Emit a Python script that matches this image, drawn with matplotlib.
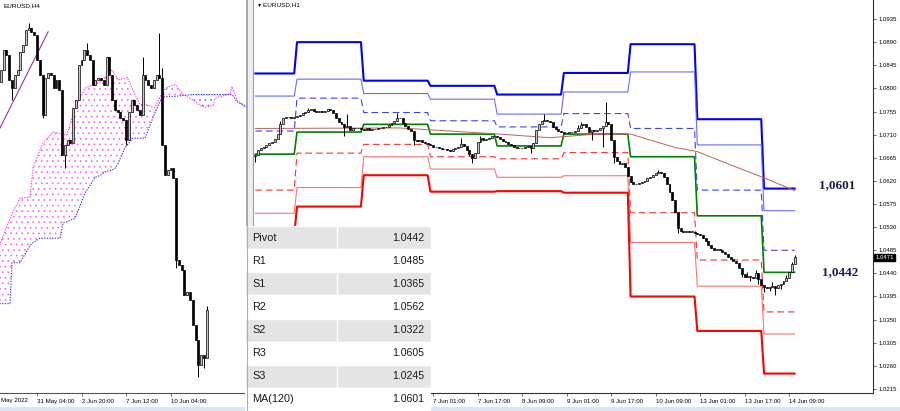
import matplotlib
matplotlib.use("Agg")
import matplotlib.pyplot as plt
from matplotlib.patches import Rectangle
import numpy as np

W, H = 900, 411

# ---------------- H1 panel (bar 0 = 3 Jun 00:00) ----------------
h1_first_bar = -15
h1_first_open = 1.0668
h1_close = [
    1.0670, 1.0680, 1.0684, 1.0686, 1.0690, 1.0694, 1.0696, 1.0702, 1.0711, 1.0731, 1.0742, 1.0744,
    1.0744, 1.0742, 1.0744, 1.0746, 1.0748, 1.0752, 1.0754, 1.0758, 1.0760, 1.0756, 1.0754, 1.0756,
    1.0754, 1.0756, 1.0760, 1.0758, 1.0752, 1.0742, 1.0735, 1.0731, 1.0725, 1.0727, 1.0719, 1.0723,
    1.0723, 1.0723, 1.0721, 1.0719, 1.0723, 1.0719, 1.0721, 1.0721, 1.0723, 1.0723, 1.0725, 1.0725,
    1.0729, 1.0733, 1.0737, 1.0742, 1.0742, 1.0733, 1.0727, 1.0721, 1.0717, 1.0700, 1.0698, 1.0700,
    1.0696, 1.0694, 1.0692, 1.0690, 1.0686, 1.0686, 1.0684, 1.0682, 1.0682, 1.0680, 1.0678, 1.0682,
    1.0684, 1.0686, 1.0692, 1.0688, 1.0680, 1.0672, 1.0665, 1.0674, 1.0696, 1.0703, 1.0700, 1.0702,
    1.0703, 1.0707, 1.0707, 1.0705, 1.0702, 1.0698, 1.0696, 1.0692, 1.0690, 1.0686, 1.0684, 1.0684,
    1.0684, 1.0686, 1.0688, 1.0684, 1.0694, 1.0719, 1.0731, 1.0737, 1.0738, 1.0737, 1.0735, 1.0725,
    1.0721, 1.0717, 1.0715, 1.0713, 1.0713, 1.0715, 1.0715, 1.0717, 1.0723, 1.0729, 1.0731, 1.0725,
    1.0715, 1.0719, 1.0717, 1.0719, 1.0723, 1.0727, 1.0735, 1.0731, 1.0700, 1.0666, 1.0659, 1.0653,
    1.0655, 1.0647, 1.0630, 1.0618, 1.0614, 1.0614, 1.0616, 1.0618, 1.0620, 1.0626, 1.0628, 1.0631,
    1.0635, 1.0637, 1.0635, 1.0628, 1.0614, 1.0598, 1.0583, 1.0559, 1.0528, 1.0522, 1.0521, 1.0522,
    1.0521, 1.0521, 1.0519, 1.0517, 1.0515, 1.0509, 1.0503, 1.0495, 1.0489, 1.0486, 1.0487, 1.0486,
    1.0482, 1.0478, 1.0472, 1.0468, 1.0464, 1.0460, 1.0450, 1.0439, 1.0433, 1.0435, 1.0433, 1.0431,
    1.0441, 1.0429, 1.0417, 1.0413, 1.0412, 1.0413, 1.0415, 1.0412, 1.0417, 1.0419, 1.0425, 1.0431,
    1.0443, 1.0458, 1.0471,
]
h1_highs = {-6: 1.0736, 4: 1.0762, 18: 1.0750, 36: 1.0752, 59: 1.0703, 66: 1.0708, 89: 1.0750,
            101: 1.0729, 102: 1.0735, 111: 1.0774, 130: 1.0641, 162: 1.0443, 165: 1.0447,
            167: 1.0427, 171: 1.0423, 176: 1.0437, 178: 1.0463, 179: 1.0476}
h1_lows = {-15: 1.0657, 17: 1.0707, 42: 1.0690, 62: 1.0668, 63: 1.0655, 84: 1.0674,
           106: 1.0700, 110: 1.0686, 114: 1.0655, 137: 1.0519, 160: 1.0433, 163: 1.0425,
           166: 1.0419, 168: 1.0404, 170: 1.0405, 172: 1.0398, 174: 1.0410}

# daily pivot levels: 2, 3, 6, 7, 8, 9, 10, 13, 14 Jun
day_start_bar = [-15, 0, 24, 48, 72, 96, 120, 144, 168]
last_bar = 179
r3 = [1.0829, 1.0890, 1.0815, 1.0805, 1.0788, 1.0830, 1.0886, 1.0740, 1.0605]
r2 = [1.0785, 1.0818, 1.0790, 1.0779, 1.0750, 1.0793, 1.0832, 1.0690, 1.0562]
r1 = [1.0717, 1.0781, 1.0753, 1.0737, 1.0725, 1.0751, 1.0722, 1.0602, 1.0485]
pivot = [1.0672, 1.0715, 1.0730, 1.0711, 1.0688, 1.0711, 1.0667, 1.0552, 1.0442]
s1 = [1.0602, 1.0674, 1.0691, 1.0667, 1.0663, 1.0675, 1.0558, 1.0466, 1.0365]
s2 = [1.0557, 1.0607, 1.0667, 1.0643, 1.0627, 1.0630, 1.0500, 1.0415, 1.0322]
s3 = [1.0515, 1.0570, 1.0631, 1.0599, 1.0600, 1.0597, 1.0395, 1.0328, 1.0245]

ma_bars = [-15, 37, 55, 73, 91, 105, 120, 136, 144, 156, 168, 179]
ma_vals = [1.0722, 1.0723, 1.0717, 1.0711, 1.0704, 1.0710, 1.0711, 1.0685, 1.0677, 1.0651, 1.0626, 1.0601]

h1_tick_bars = [49, 65, 81, 97, 113, 129, 145, 161, 177]
h1_tick_labels = ["7 Jun 01:00", "7 Jun 17:00", "8 Jun 09:00", "9 Jun 01:00", "9 Jun 17:00",
                  "10 Jun 09:00", "13 Jun 01:00", "13 Jun 17:00", "14 Jun 09:00"]
price_ticks = [1.0215, 1.0260, 1.0305, 1.0350, 1.0395, 1.0440, 1.0485, 1.0530, 1.0575,
               1.0620, 1.0665, 1.0710, 1.0755, 1.0800, 1.0845, 1.0890, 1.0935]
last_price = 1.0471

table_labels = ["Pivot", "R1", "S1", "R2", "S2", "R3", "S3", "MA(120)"]
table_values = ["1.0442", "1.0485", "1.0365", "1.0562", "1.0322", "1.0605", "1.0245", "1.0601"]

# ---------------- H4 panel (bar 0 = 31 May 04:00) ----------------
h4_first_bar = -13
h4_first_open = 1.0710
h4_close = [
    1.0723, 1.0745, 1.0740, 1.0712, 1.0703, 1.0718, 1.0723, 1.0743, 1.0751, 1.0767, 1.0769, 1.0765, 1.0762,
    1.0734, 1.0718, 1.0674, 1.0714, 1.0720, 1.0718, 1.0703, 1.0712, 1.0701, 1.0630,
    1.0641, 1.0646, 1.0643, 1.0681, 1.0690, 1.0729, 1.0734, 1.0745, 1.0740, 1.0734,
    1.0707, 1.0712, 1.0714, 1.0712, 1.0707, 1.0737, 1.0718, 1.0690, 1.0679, 1.0677,
    1.0670, 1.0668, 1.0646, 1.0677, 1.0690, 1.0685, 1.0679, 1.0674, 1.0718, 1.0712,
    1.0707, 1.0703, 1.0712, 1.0718, 1.0714, 1.0641, 1.0608, 1.0613, 1.0615, 1.0604,
    1.0514, 1.0509, 1.0503, 1.0476, 1.0479, 1.0470, 1.0443, 1.0426, 1.0399, 1.0410,
    1.0406, 1.0459,
]
h4_highs = {-3: 1.0775, 18: 1.0753, 38: 1.0737, 44: 1.0764, 45: 1.0725, 61: 1.0463}
h4_lows = {-9: 1.0690, 2: 1.0670, 10: 1.0615, 32: 1.0640, 50: 1.0505, 58: 1.0385, 60: 1.0395}

cloud_bars = [-13.5, -9.7, -9.0, -6.1, -2.5, -1.4, 1.1, 2.2, 5.8, 8.3, 9.4, 10.8, 13.7, 17.3,
              20.9, 22.7, 24.5, 27.0, 28.1, 29.1, 31.7, 32.4, 34.5, 37.0, 38.8, 42.4, 44.2,
              45.3, 46.8, 49.6, 52.5, 56.1, 58.6, 60.4, 63.3, 64.0, 66.5, 69.4, 70.1, 71.9, 75.5]
span_a = [1.0530, 1.0560, 1.0565, 1.0582, 1.0583, 1.0616, 1.0635, 1.0643, 1.0655, 1.0653, 1.0652,
          1.0652, 1.0682, 1.0703, 1.0708, 1.0710, 1.0715, 1.0723, 1.0718, 1.0712, 1.0714, 1.0715,
          1.0701, 1.0685, 1.0685, 1.0682, 1.0693, 1.0700, 1.0704, 1.0707, 1.0696, 1.0690, 1.0684,
          1.0682, 1.0684, 1.0692, 1.0694, 1.0697, 1.0705, 1.0690, 1.0682]
span_b = [1.0466, 1.0466, 1.0511, 1.0511, 1.0530, 1.0533, 1.0538, 1.0538, 1.0538, 1.0538, 1.0555,
          1.0556, 1.0560, 1.0588, 1.0605, 1.0607, 1.0611, 1.0613, 1.0615, 1.0620, 1.0638, 1.0640,
          1.0648, 1.0648, 1.0648, 1.0676, 1.0688, 1.0693, 1.0694, 1.0694, 1.0695, 1.0696, 1.0696,
          1.0696, 1.0696, 1.0696, 1.0696, 1.0696, 1.0696, 1.0688, 1.0682]
trend_bars = [-14, 4]
trend_vals = [1.0655, 1.0765]

h4_tick_bars = [0, 16, 32, 48]
h4_tick_labels = ["31 May 04:00", "2 Jun 20:00", "7 Jun 12:00", "10 Jun 04:00"]

plt.rcParams["font.family"] = ["Liberation Sans", "DejaVu Sans"]
plt.rcParams["hatch.linewidth"] = 0.45

fig = plt.figure(figsize=(W / 100, H / 100), dpi=100)
fig.patch.set_facecolor("white")


def px_axes(x0, y0, x1, y1):
    return fig.add_axes([x0 / W, 1 - y1 / H, (x1 - x0) / W, (y1 - y0) / H])


def draw_candles(ax, first_bar, first_open, closes, highs, lows):
    idx = np.arange(first_bar, first_bar + len(closes))
    c = np.array(closes)
    o = np.r_[first_open, c[:-1]]
    top = np.maximum(o, c)
    bot = np.minimum(o, c)
    hi = top.copy()
    lo = bot.copy()
    for b, v in highs.items():
        hi[b - first_bar] = v
    for b, v in lows.items():
        lo[b - first_bar] = v
    ax.vlines(idx, lo, hi, color="black", lw=0.7, zorder=4)
    body = np.maximum(top - bot, 0.00008)
    up = c >= o
    ax.bar(idx[up], body[up], 0.7, bottom=bot[up], facecolor="#C8C8C8",
           edgecolor="black", linewidth=0.5, zorder=5)
    ax.bar(idx[~up], body[~up], 0.7, bottom=bot[~up], facecolor="black",
           edgecolor="black", linewidth=0.5, zorder=5)


# ---------------- left: H4 with ichimoku ----------------
ax4 = px_axes(0, 0, 247, 393)
ax4.set_xlim(-13.31, 75.5)
ax4.set_ylim(1.03677, 1.0800)
ca = np.array(span_a)
cb = np.array(span_b)
ax4.fill_between(cloud_bars, ca, cb, where=ca >= cb, interpolate=True, facecolor="none",
                 edgecolor="#FF55FF", hatch="...", linewidth=0, zorder=1)
ax4.fill_between(cloud_bars, ca, cb, where=ca < cb, interpolate=True, facecolor="none",
                 edgecolor="#6666FF", hatch="...", linewidth=0, zorder=1)
ax4.plot(cloud_bars, span_a, color="#FF33FF", lw=0.8, ls=(0, (1.2, 1.2)), zorder=2)
ax4.plot(cloud_bars, span_b, color="#3333FF", lw=0.8, ls=(0, (1.2, 1.2)), zorder=2)
ax4.plot(trend_bars, trend_vals, color="#A030A0", lw=0.8, zorder=3)
draw_candles(ax4, h4_first_bar, h4_first_open, h4_close, h4_highs, h4_lows)
ax4.set_yticks([])
ax4.set_xticks(h4_tick_bars)
ax4.set_xticklabels(h4_tick_labels, ha="left", fontsize=4.4)
ax4.tick_params(axis="x", length=2.5, width=0.5, pad=1.5, color="#333333")
for s in ["top", "left"]:
    ax4.spines[s].set_visible(False)
ax4.spines["bottom"].set_color("#555555")
ax4.spines["bottom"].set_linewidth(0.8)
ax4.spines["right"].set_color("#9A9A9A")
ax4.spines["right"].set_linewidth(1.2)
fig.text(3 / W, 1 - 6 / H, "EURUSD,H4", fontsize=4.6, va="center", ha="left")
fig.text(1 / W, 1 - 400 / H, "May 2022", fontsize=4.4, va="center", ha="left")

# ---------------- right: H1 with pivot levels ----------------
ax = px_axes(253, 0, 873, 393)
ax.set_xlim(-15.83, 207.2)
ax.set_ylim(1.02072, 1.0972)

ends = day_start_bar[1:] + [last_bar + 1]
lvl_x = np.arange(day_start_bar[0], last_bar + 1)


def expand(levels):
    out = []
    for s, e, v in zip(day_start_bar, ends, levels):
        out += [v] * (e - s)
    return out


ax.plot(lvl_x, expand(r3), color="#0000FF", lw=1.5, zorder=2)
ax.plot(lvl_x, expand(r2), color="#6A6AFF", lw=0.8, zorder=2)
ax.plot(lvl_x, expand(r1), color="#3F3FFF", lw=0.8, dashes=(6, 3.5), zorder=2)
ax.plot(lvl_x, expand(pivot), color="#008000", lw=1.2, zorder=2)
ax.plot(lvl_x, expand(s1), color="#FF3030", lw=0.8, dashes=(6, 3.5), zorder=2)
ax.plot(lvl_x, expand(s2), color="#FF7070", lw=0.8, zorder=2)
ax.plot(lvl_x, expand(s3), color="#FF0000", lw=1.5, zorder=2)
ax.plot(ma_bars, ma_vals, color="#C0605A", lw=0.7, zorder=3)
draw_candles(ax, h1_first_bar, h1_first_open, h1_close, h1_highs, h1_lows)

ax.yaxis.tick_right()
ax.set_yticks(price_ticks)
ax.set_yticklabels([f"{v:.4f}" for v in price_ticks], fontsize=4.3)
ax.tick_params(axis="y", length=2.5, width=0.5, pad=1.5, color="#333333")
ax.set_xticks(h1_tick_bars)
ax.set_xticklabels(h1_tick_labels, ha="left", fontsize=4.4)
ax.tick_params(axis="x", length=2.5, width=0.5, pad=1.5, color="#333333")
ax.spines["top"].set_visible(False)
ax.spines["left"].set_color("#A0A0A0")
for s in ["right", "bottom"]:
    ax.spines[s].set_color("#333333")
    ax.spines[s].set_linewidth(0.8)

ax.text(1.004, last_price, f"{last_price:.4f}", transform=ax.get_yaxis_transform(),
        ha="left", va="center", fontsize=4.3, color="white", zorder=10, clip_on=False,
        bbox=dict(boxstyle="square,pad=0.2", fc="black", ec="black"))
ax.annotate("1,0601", (194.2, 1.0601), xytext=(0, 4), textcoords="offset points",
            ha="center", va="center", fontsize=9.5, fontweight="bold",
            family="Liberation Serif", color="#1C1C50")
ax.annotate("1,0442", (195.5, 1.0442), xytext=(0, 0), textcoords="offset points",
            ha="center", va="center", fontsize=9.5, fontweight="bold",
            family="Liberation Serif", color="#1C1C50")
fig.text(258 / W, 1 - 5 / H, "\u25BE EURUSD,H1", fontsize=4.6, va="center", ha="left")

# separator and bottom strip
fig.add_artist(Rectangle((247 / W, 0), 6 / W, 1, transform=fig.transFigure,
                         fc="#EEEEEE", ec="none", zorder=0))
fig.add_artist(Rectangle((0, 0), 1, 4 / H, transform=fig.transFigure,
                         fc="#DCE6F2", ec="none", zorder=0))

# ---------------- value table ----------------
tab = px_axes(245, 226, 431, 411)
tab.set_xlim(0, 1)
tab.set_ylim(len(table_labels), 0)
tab.axis("off")
for r, (lab, val) in enumerate(zip(table_labels, table_values)):
    fc = "#E4E4E4" if r % 2 == 0 else "white"
    tab.add_patch(Rectangle((0, r), 1, 1, fc=fc, ec="white", lw=1.0))
    tab.text(0.04, r + 0.5, lab, ha="left", va="center", fontsize=7.8, color="#1A1A1A")
    tab.text(0.965, r + 0.5, val, ha="right", va="center", fontsize=7.6, color="#1A1A1A")
tab.plot([0.495, 0.495], [0, len(table_labels)], color="white", lw=1.0)
tab.plot([0.01, 0.01], [0, len(table_labels)], color="#B0B0B0", lw=0.8)

fig.savefig("out.png", dpi=100)
